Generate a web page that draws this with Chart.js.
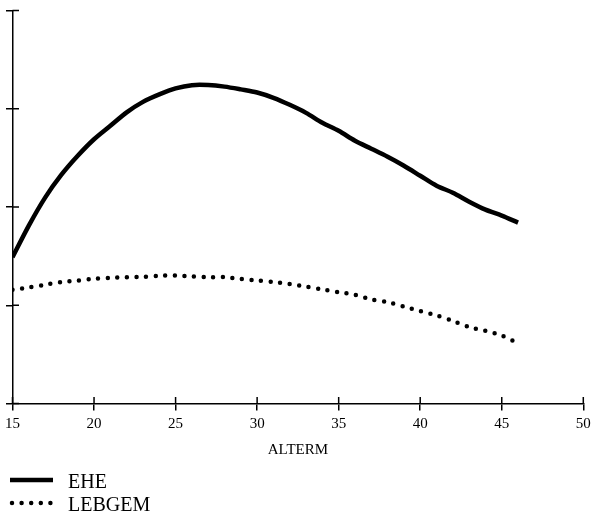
<!DOCTYPE html>
<html>
<head>
<meta charset="utf-8">
<script src="https://cdn.jsdelivr.net/npm/chart.js@4.4.1/dist/chart.umd.min.js"></script>
<style>
  html, body { margin: 0; padding: 0; background: #fff; }
  #wrap { width: 596px; height: 517px; }
</style>
</head>
<body>
<div id="wrap"><canvas id="c" width="596" height="517"></canvas></div>
<script>
// Age (ALTERM) on the x axis
const ages = [15,16,17,18,19,20,21,22,23,24,25,26,27,28,29,30,31,32,33,34,35,36,37,38,39,40,41,42,43,44,45,46];

// EHE series
const ehe = [1.489,1.811,2.096,2.329,2.522,2.690,2.827,2.964,3.071,3.147,3.208,3.241,3.242,3.226,3.198,3.166,
             3.112,3.041,2.959,2.858,2.776,2.675,2.594,2.512,2.421,2.319,2.217,2.146,2.055,1.974,1.913,1.841];

// LEBGEM series
const lebgem = [1.158,1.181,1.209,1.237,1.252,1.269,1.280,1.286,1.288,1.300,1.303,1.293,1.286,1.286,1.269,1.252,
                1.237,1.216,1.191,1.161,1.133,1.107,1.061,1.032,0.986,0.940,0.896,0.841,0.779,0.739,0.693,0.612];

// Axis ranges and tick steps
const xTicks = [15, 20, 25, 30, 35, 40, 45, 50];
const yRange = [0, 4];
const yStep = 1;

const serif = '"Liberation Serif", "Times New Roman", serif';

function toPoints(ys) { return ages.map((a, i) => ({ x: a, y: ys[i] })); }

// Tick marks crossing the axis lines (inner half of each tick)
const innerTicks = {
  id: 'innerTicks',
  afterDraw(chart) {
    const { ctx, chartArea, scales } = chart;
    ctx.save();
    ctx.strokeStyle = '#000';
    ctx.lineWidth = 1.5;
    ctx.beginPath();
    scales.y.ticks.forEach(t => {
      const py = scales.y.getPixelForValue(t.value);
      ctx.moveTo(chartArea.left, py);
      ctx.lineTo(chartArea.left + 6.5, py);
    });
    scales.x.ticks.forEach(t => {
      const px = scales.x.getPixelForValue(t.value);
      ctx.moveTo(px, chartArea.bottom);
      ctx.lineTo(px, chartArea.bottom - 6.5);
    });
    ctx.stroke();
    ctx.restore();
  }
};

// Stacked legend in the lower left corner, styled like each dataset
const stackedLegend = {
  id: 'stackedLegend',
  afterDraw(chart) {
    const { ctx } = chart;
    const x0 = 10, x1 = 53, tx = 68;
    const rows = [480, 503];
    ctx.save();
    chart.data.datasets.forEach((ds, i) => {
      const y = rows[i];
      ctx.beginPath();
      ctx.strokeStyle = ds.borderColor;
      ctx.lineWidth = ds.borderWidth;
      ctx.lineCap = ds.borderCapStyle || 'butt';
      ctx.setLineDash(ds.borderDash || []);
      ctx.moveTo(x0 + (ds.borderDash ? 2 : 0), y);
      ctx.lineTo(x1, y);
      ctx.stroke();
      ctx.setLineDash([]);
      ctx.fillStyle = '#000';
      ctx.font = '20px ' + serif;
      ctx.textBaseline = 'middle';
      ctx.fillText(ds.label, tx, y + 3);
    });
    ctx.restore();
  }
};

new Chart(document.getElementById('c'), {
  type: 'line',
  data: {
    datasets: [
      {
        label: 'EHE',
        data: toPoints(ehe),
        borderColor: '#000',
        borderWidth: 4.5,
        borderCapStyle: 'butt',
        borderJoinStyle: 'round',
        pointRadius: 0,
        tension: 0.3,
        fill: false
      },
      {
        label: 'LEBGEM',
        data: toPoints(lebgem),
        borderColor: '#000',
        borderWidth: 4.5,
        borderCapStyle: 'round',
        borderDash: [0, 9.6],
        pointRadius: 0,
        tension: 0.3,
        fill: false
      }
    ]
  },
  options: {
    responsive: false,
    animation: false,
    layout: { padding: { left: 3.9, right: 12.7, top: 10.6, bottom: 53.5 } },
    plugins: {
      legend: { display: false },
      tooltip: { enabled: false }
    },
    scales: {
      x: {
        type: 'linear',
        min: xTicks[0],
        max: xTicks[xTicks.length - 1],
        afterBuildTicks(scale) { scale.ticks = xTicks.map(v => ({ value: v })); },
        grid: { drawOnChartArea: false, drawTicks: true, tickLength: 7, color: '#000', lineWidth: 1.5 },
        border: { display: true, color: '#000', width: 1.5 },
        ticks: { color: '#000', font: { family: serif, size: 15 }, padding: 5, maxRotation: 0, autoSkip: false },
        title: { display: true, text: 'ALTERM', color: '#000', font: { family: serif, size: 15 }, padding: { top: 3, bottom: 4 } }
      },
      y: {
        type: 'linear',
        min: yRange[0],
        max: yRange[1],
        ticks: { display: false, stepSize: yStep },
        grid: { drawOnChartArea: false, drawTicks: true, tickLength: 6.5, color: '#000', lineWidth: 1.5 },
        border: { display: true, color: '#000', width: 1.5 }
      }
    }
  },
  plugins: [innerTicks, stackedLegend]
});
</script>
</body>
</html>
